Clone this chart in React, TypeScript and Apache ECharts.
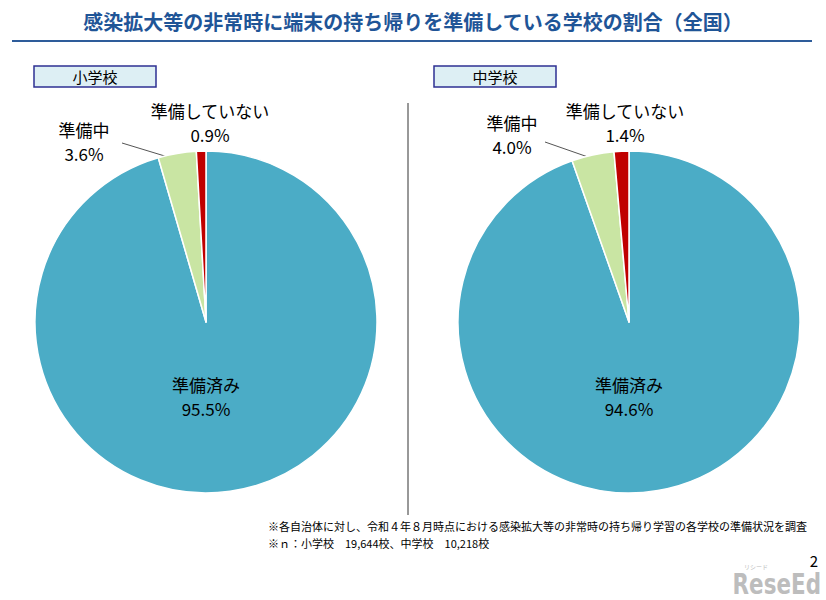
import React, { useEffect, useRef } from "react";
import * as echarts from "echarts";

const title = "感染拡大等の非常時に端末の持ち帰りを準備している学校の割合（全国）";
const categories = ["準備済み", "準備中", "準備していない"];
const elementaryValues = [95.5, 3.6, 0.9];
const juniorValues = [94.6, 4.0, 1.4];
const panelNames = ["小学校", "中学校"];
const colors = ["#4BACC6", "#C9E5A3", "#C00000"];
const notes = [
  "※各自治体に対し、令和４年８月時点における感染拡大等の非常時の持ち帰り学習の各学校の準備状況を調査",
  "※ｎ：小学校　19,644校、中学校　10,218校",
];

const FONT = "'Noto Sans CJK JP', 'Noto Sans', sans-serif";

function makeSeries(values: number[], cx: number, cy: number, r: number, offs: number[][]) {
  return {
    type: "pie",
    center: [cx, cy],
    radius: r,
    startAngle: 90,
    clockwise: true,
    silent: true,
    itemStyle: { borderColor: "#ffffff", borderWidth: 1.5 },
    label: {
      show: true,
      formatter: (p: any) => `${p.name}\n${p.value.toFixed(1)}%`,
      fontSize: 17,
      lineHeight: 24,
      color: "#000",
      fontFamily: FONT,
      align: "center",
      overflow: "none",
      width: 200,
    },
    labelLine: { show: false },
    labelLayout: (p: any) => {
      const o = offs[p.dataIndex];
      return { x: cx + o[0], y: cy + o[1], align: "center", verticalAlign: "middle" };
    },
    data: values.map((v, i) => ({
      name: categories[i],
      value: v,
      itemStyle: { color: colors[i] },
      label: { position: i === 0 ? "inside" : "outside" },
    })),
  };
}

export default function App() {
  const ref = useRef<HTMLDivElement>(null);
  useEffect(() => {
    const chart = echarts.init(ref.current!, null, { renderer: "svg" });
    const r = 171;
    const c1 = [206, 322];
    const c2 = [629, 322];
    const offs1 = [
      [0, 74],
      [-122, -181],
      [4, -200],
    ];
    const offs2 = [
      [0, 74],
      [-117, -188],
      [-4, -200],
    ];
    const box = (x: number, text: string) => ({
      type: "group",
      children: [
        {
          type: "rect",
          shape: { x, y: 66, width: 122, height: 21 },
          style: { fill: "#DDEFF4", stroke: "#2E3192", lineWidth: 1.5 },
        },
        {
          type: "text",
          x: x + 61,
          y: 76.5,
          style: {
            text,
            fontSize: 15,
            fontFamily: FONT,
            fill: "#000",
            align: "center",
            verticalAlign: "middle",
          },
        },
      ],
    });
    chart.setOption({
      animation: false,
      backgroundColor: "#ffffff",
      series: [
        makeSeries(elementaryValues, c1[0], c1[1], r, offs1),
        makeSeries(juniorValues, c2[0], c2[1], r, offs2),
      ],
      graphic: [
        {
          type: "text",
          x: 413,
          y: 21,
          style: {
            text: title,
            fontSize: 20,
            fontWeight: "bold",
            fontFamily: FONT,
            fill: "#1F5597",
            align: "center",
            verticalAlign: "middle",
          },
        },
        {
          type: "line",
          shape: { x1: 12, y1: 41, x2: 812, y2: 41 },
          style: { stroke: "#2E5C9A", lineWidth: 2 },
        },
        box(34, panelNames[0]),
        box(434, panelNames[1]),
        {
          type: "line",
          shape: { x1: 408, y1: 103, x2: 408, y2: 515 },
          style: { stroke: "#333", lineWidth: 1 },
        },
        {
          type: "line",
          shape: { x1: 122, y1: 143, x2: 168, y2: 157 },
          style: { stroke: "#555", lineWidth: 1 },
        },
        {
          type: "line",
          shape: { x1: 545, y1: 142, x2: 588, y2: 157 },
          style: { stroke: "#555", lineWidth: 1 },
        },
        {
          type: "text",
          x: 268,
          y: 526,
          style: { text: notes[0], fontSize: 11, fontFamily: FONT, fill: "#000", verticalAlign: "middle" },
        },
        {
          type: "text",
          x: 268,
          y: 543,
          style: { text: notes[1], fontSize: 11, fontFamily: FONT, fill: "#000", verticalAlign: "middle" },
        },
        {
          type: "text",
          x: 818,
          y: 560,
          style: { text: "2", fontSize: 15, fontFamily: FONT, fill: "#000", align: "right", verticalAlign: "middle" },
        },
        {
          type: "text",
          x: 821,
          y: 584,
          scaleX: 0.74,
          style: {
            text: "ReseEd",
            fontSize: 29,
            lineHeight: 24,
            fontWeight: "bold",
            fontFamily: "'DejaVu Sans', sans-serif",
            fill: "#BDBDBD",
            align: "right",
            verticalAlign: "middle",
          },
        },
        {
          type: "text",
          x: 756,
          y: 566,
          style: { text: "リシード", fontSize: 6, fontFamily: FONT, fill: "#BDBDBD", align: "center", verticalAlign: "middle" },
        },
      ],
    });
    return () => chart.dispose();
  }, []);
  return <div ref={ref} style={{ width: 826, height: 600, position: "absolute", left: 0, top: 0 }} />;
}
